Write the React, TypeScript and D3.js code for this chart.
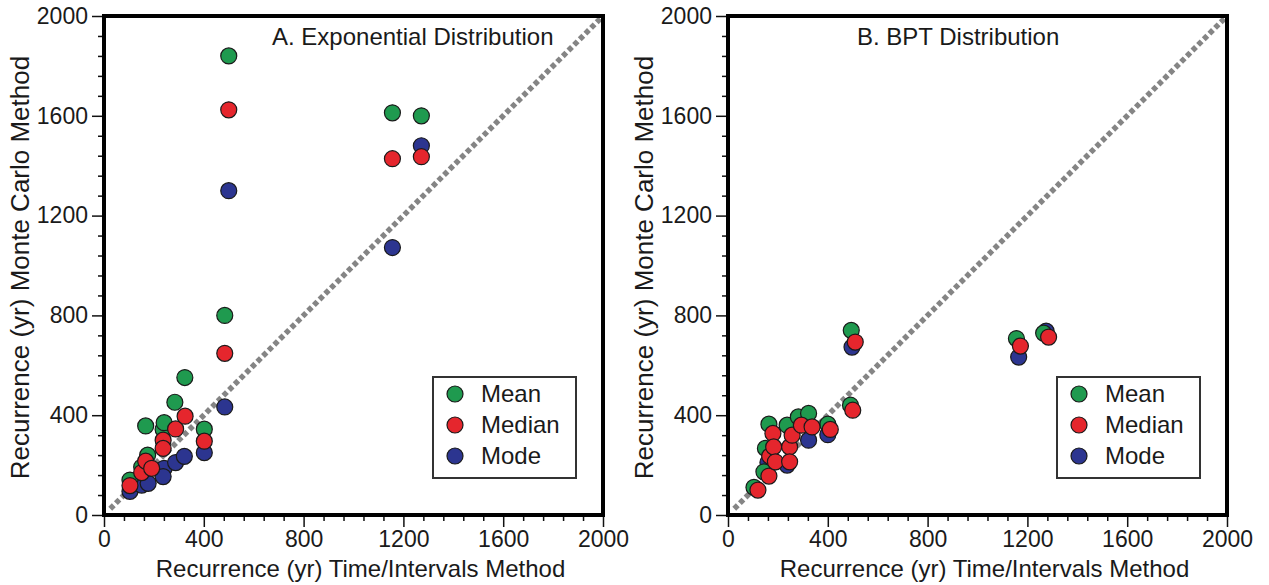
import React, { useEffect, useRef } from "react";
import * as d3 from "d3";

// tick values (both axes, both panels)
const majorTicks = [0, 400, 800, 1200, 1600, 2000];
const minorTicks = [80, 160, 240, 320, 480, 560, 640, 720, 880, 960, 1040, 1120, 1280, 1360, 1440, 1520, 1680, 1760, 1840, 1920];

// [time/intervals recurrence, monte carlo recurrence]
const expMean = [[104, 140], [151, 192], [175, 240], [167, 357], [237, 343], [241, 370], [284, 452], [324, 551], [402, 344], [484, 800], [500, 1840], [1156, 1612], [1272, 1600]];
const expMedian = [[104, 118], [151, 170], [167, 216], [191, 187], [237, 300], [237, 267], [287, 345], [325, 396], [402, 296], [484, 648], [500, 1624], [1156, 1428], [1272, 1436]];
const expMode = [[104, 95], [151, 120], [177, 127], [241, 187], [237, 154], [287, 210], [322, 235], [402, 250], [484, 433], [500, 1300], [1156, 1072], [1272, 1480]];

const bptMean = [[104, 111], [144, 173], [150, 267], [164, 364], [237, 360], [282, 393], [323, 407], [400, 364], [491, 440], [494, 740], [1156, 707], [1265, 729]];
const bptMedian = [[120, 100], [164, 156], [167, 236], [180, 327], [183, 273], [190, 213], [247, 273], [247, 213], [257, 320], [294, 360], [337, 353], [410, 343], [500, 420], [510, 693], [1172, 677], [1285, 713]];
const bptMode = [[160, 210], [237, 200], [323, 300], [400, 322], [497, 673], [1165, 633], [1275, 737]];

const seriesNames = ["Mean", "Median", "Mode"];
const seriesColors = ["#1f9a4f", "#e5262d", "#2c3590"];

const panels = [
  { title: "A. Exponential Distribution", left: 104, titleX: 272, legendX: 433, series: [expMean, expMedian, expMode] },
  { title: "B. BPT Distribution", left: 728, titleX: 857, legendX: 1057, series: [bptMean, bptMedian, bptMode] },
];

const FONT = "'Liberation Sans', Arial, Helvetica, sans-serif";

export default function App() {
  const svgRef = useRef<SVGSVGElement>(null);

  useEffect(() => {
    const svg = d3.select(svgRef.current);
    svg.selectAll("*").remove();

    const top = 16, size = 499;

    panels.forEach(p => {
      const x = d3.scaleLinear().domain([0, 2000]).range([p.left, p.left + size]);
      const y = d3.scaleLinear().domain([0, 2000]).range([top + size, top]);
      const g = svg.append("g");

      // 1:1 line
      g.append("line")
        .attr("x1", x(25)).attr("y1", y(25))
        .attr("x2", x(1990)).attr("y2", y(1990))
        .attr("stroke", "#858585")
        .attr("stroke-width", 5.5)
        .attr("stroke-dasharray", "5,3");

      // points: mode first, then mean, median on top
      [2, 0, 1].forEach(i => {
        g.selectAll(null)
          .data(p.series[i])
          .enter()
          .append("circle")
          .attr("cx", d => x(d[0]))
          .attr("cy", d => y(d[1]))
          .attr("r", 8)
          .attr("fill", seriesColors[i])
          .attr("stroke", "#1a1a1a")
          .attr("stroke-width", 1.2);
      });

      // axes
      const fmt = d3.format("d");
      const xMajor = g.append("g").attr("transform", `translate(0,${top + size})`)
        .call(d3.axisBottom(x).tickValues(majorTicks).tickSize(12).tickPadding(4).tickFormat(fmt));
      g.append("g").attr("transform", `translate(0,${top + size})`)
        .call(d3.axisBottom(x).tickValues(minorTicks).tickSize(6).tickFormat(() => ""));
      const yMajor = g.append("g").attr("transform", `translate(${p.left},0)`)
        .call(d3.axisLeft(y).tickValues(majorTicks).tickSize(12).tickPadding(4).tickFormat(fmt));
      g.append("g").attr("transform", `translate(${p.left},0)`)
        .call(d3.axisLeft(y).tickValues(minorTicks).tickSize(6).tickFormat(() => ""));

      g.selectAll(".domain").remove();
      g.selectAll(".tick line").attr("stroke", "#111").attr("stroke-width", 1.5);
      [xMajor, yMajor].forEach(a => a.selectAll("text")
        .style("font-family", FONT).style("font-size", "23px").attr("fill", "#1a1a1a"));

      // frame
      g.append("rect")
        .attr("x", p.left).attr("y", top)
        .attr("width", size).attr("height", size)
        .attr("fill", "none")
        .attr("stroke", "#000")
        .attr("stroke-width", 4);

      // title
      g.append("text")
        .attr("x", p.titleX).attr("y", 45)
        .style("font-family", FONT).style("font-size", "24px")
        .attr("fill", "#1a1a1a")
        .text(p.title);

      // axis titles
      g.append("text")
        .attr("x", p.left + size / 2 + 7).attr("y", 577)
        .attr("text-anchor", "middle")
        .style("font-family", FONT).style("font-size", "24px")
        .attr("fill", "#1a1a1a")
        .text("Recurrence (yr) Time/Intervals Method");

      g.append("text")
        .attr("transform", `translate(${p.left - 75},${top + size / 2 + 2}) rotate(-90)`)
        .attr("text-anchor", "middle")
        .style("font-family", FONT).style("font-size", "26px")
        .attr("fill", "#1a1a1a")
        .text("Recurrence (yr) Monte Carlo Method");

      // legend
      const lg = g.append("g").attr("transform", `translate(${p.legendX},377)`);
      lg.append("rect")
        .attr("width", 143).attr("height", 101)
        .attr("fill", "#fff")
        .attr("stroke", "#333")
        .attr("stroke-width", 2);
      seriesNames.forEach((name, i) => {
        lg.append("circle")
          .attr("cx", 22).attr("cy", 17 + i * 31)
          .attr("r", 8)
          .attr("fill", seriesColors[i])
          .attr("stroke", "#1a1a1a")
          .attr("stroke-width", 1.2);
        lg.append("text")
          .attr("x", 48).attr("y", 25 + i * 31)
          .style("font-family", FONT).style("font-size", "24px")
          .attr("fill", "#1a1a1a")
          .text(name);
      });
    });
  }, []);

  return (
    <svg ref={svgRef} width={1269} height={585}
      style={{ position: "absolute", left: 0, top: 0, background: "#fff" }} />
  );
}
